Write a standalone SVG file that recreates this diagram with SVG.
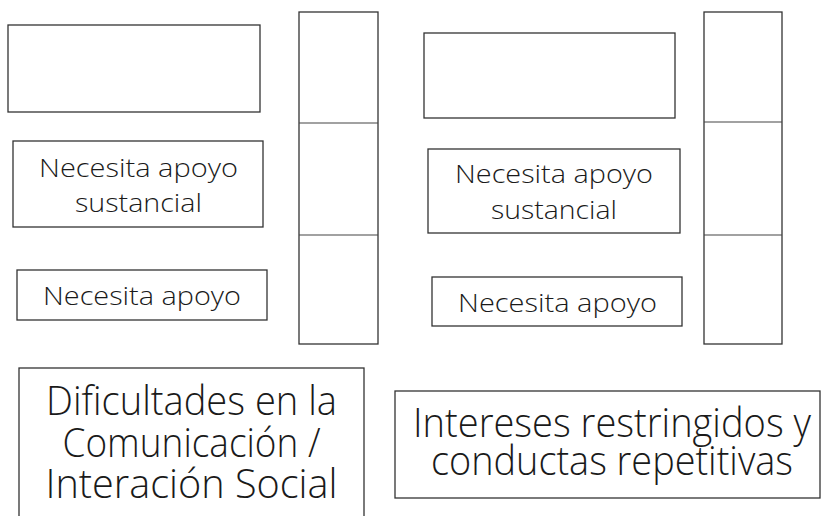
<svg xmlns="http://www.w3.org/2000/svg" width="822" height="516" viewBox="0 0 822 516">
<style>
.box{fill:#fff;stroke:#333;stroke-width:1.3}
.div{stroke:#444;stroke-width:1.2}
.t{font-family:"Open Sans","Liberation Sans",sans-serif;font-weight:300;fill:#1a1a1a;text-anchor:middle}
.s{font-size:26px}
.b{font-size:40px}
</style>
<rect width="822" height="516" fill="#fff"/>
<g id="box-a"><rect class="box" x="8" y="25" width="252" height="87"/></g>
<g id="box-b"><rect class="box" x="13" y="141" width="250" height="86"/>
<text class="t s" x="138.5" y="177" textLength="199" lengthAdjust="spacingAndGlyphs">Necesita apoyo</text>
<text class="t s" x="138.5" y="212" textLength="127" lengthAdjust="spacingAndGlyphs">sustancial</text></g>
<g id="box-c"><rect class="box" x="17" y="270" width="250" height="50"/>
<text class="t s" x="142" y="305" textLength="198" lengthAdjust="spacingAndGlyphs">Necesita apoyo</text></g>
<g id="col-1"><rect class="box" x="299" y="12" width="79" height="332"/>
<line class="div" x1="299" y1="123" x2="378" y2="123"/>
<line class="div" x1="299" y1="235" x2="378" y2="235"/></g>
<g id="box-d"><rect class="box" x="424" y="33" width="251" height="85"/></g>
<g id="box-e"><rect class="box" x="428" y="149" width="252" height="84"/>
<text class="t s" x="554" y="183" textLength="198" lengthAdjust="spacingAndGlyphs">Necesita apoyo</text>
<text class="t s" x="554" y="219" textLength="126" lengthAdjust="spacingAndGlyphs">sustancial</text></g>
<g id="box-f"><rect class="box" x="432" y="277" width="250" height="49"/>
<text class="t s" x="557.5" y="312" textLength="199" lengthAdjust="spacingAndGlyphs">Necesita apoyo</text></g>
<g id="col-2"><rect class="box" x="704" y="12" width="78" height="332"/>
<line class="div" x1="704" y1="122" x2="782" y2="122"/>
<line class="div" x1="704" y1="235" x2="782" y2="235"/></g>
<g id="box-g"><rect class="box" x="19" y="368" width="345" height="160"/>
<text class="t b" x="191.5" y="415" textLength="291" lengthAdjust="spacingAndGlyphs">Dificultades en la</text>
<text class="t b" x="191.5" y="457" textLength="258" lengthAdjust="spacingAndGlyphs">Comunicación /</text>
<text class="t b" x="191.5" y="498" textLength="292" lengthAdjust="spacingAndGlyphs">Interación Social</text></g>
<g id="box-h"><rect class="box" x="395" y="391" width="425" height="107"/>
<text class="t b" x="612" y="437" textLength="398" lengthAdjust="spacingAndGlyphs">Intereses restringidos y</text>
<text class="t b" x="612" y="475" textLength="362" lengthAdjust="spacingAndGlyphs">conductas repetitivas</text></g>
<g id="connectors"></g>
</svg>
